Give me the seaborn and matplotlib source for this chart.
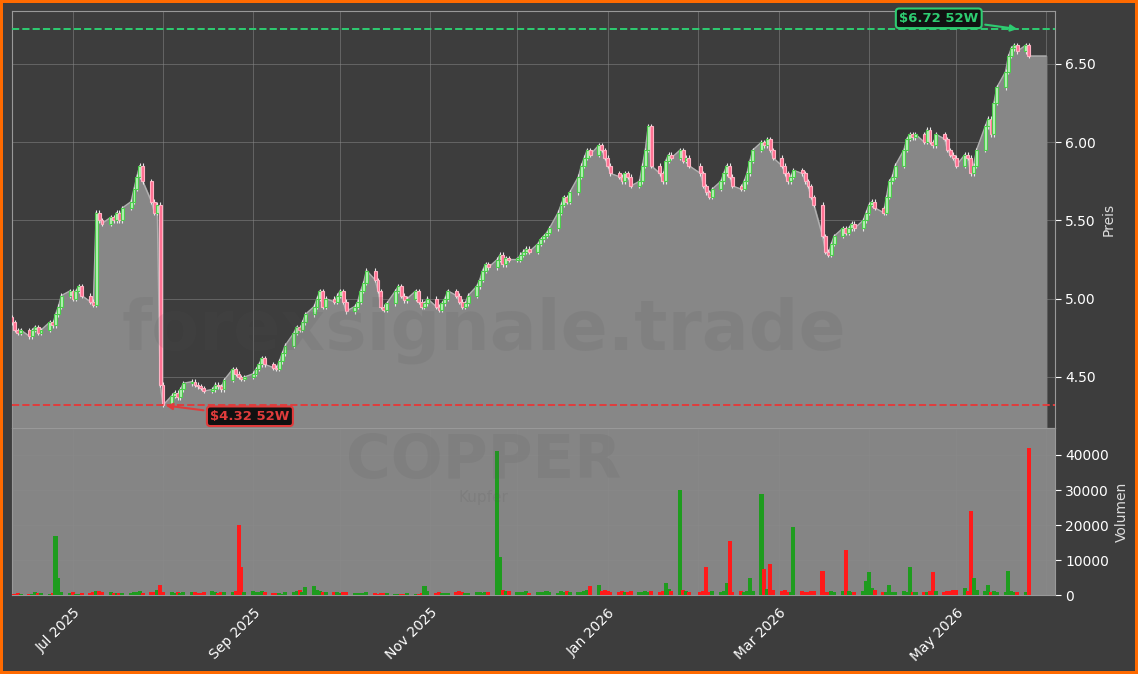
import numpy as np
import pandas as pd
import seaborn as sns
import matplotlib.pyplot as plt
import matplotlib.dates as mdates
from matplotlib.ticker import FuncFormatter

sns.set_style('dark')
plt.rcParams['font.family'] = ['DejaVu Sans']

# Schlusskurse pro Monat (Handelstage)
month_starts = ['2025-06-09', '2025-07-01', '2025-08-01', '2025-09-01', '2025-10-01', '2025-11-03',
                '2025-12-01', '2026-01-01', '2026-02-02', '2026-03-02', '2026-04-01', '2026-05-01']
closes = [
    [4.88, 4.85, 4.80, 4.78, 4.80, 4.76, 4.80, 4.82, 4.78, 4.80, 4.85, 4.83, 4.90, 4.95, 5.02, 5.05],
    [5.00, 5.05, 5.08, 5.02, 4.98, 4.96, 5.55, 5.50, 5.48, 5.52, 5.50, 5.55, 5.50, 5.58, 5.62, 5.70,
     5.78, 5.85, 5.75, 5.62, 5.55, 5.60, 4.45],
    [4.32, 4.38, 4.40, 4.37, 4.42, 4.46, 4.47, 4.45, 4.44, 4.43, 4.41, 4.42, 4.45, 4.44, 4.42, 4.48,
     4.55, 4.52, 4.50, 4.49, 4.50],
    [4.52, 4.55, 4.58, 4.62, 4.58, 4.56, 4.55, 4.60, 4.65, 4.70, 4.78, 4.82, 4.80, 4.85, 4.90, 4.95,
     5.00, 5.05, 4.95, 5.00, 4.98, 5.02],
    [5.05, 4.98, 4.92, 4.95, 4.98, 5.05, 5.10, 5.18, 5.12, 5.05, 4.95, 4.93, 4.97, 5.05, 5.08, 5.02,
     4.99, 5.00, 5.05, 4.98, 4.95, 4.97, 5.00],
    [4.95, 4.93, 4.97, 5.00, 5.05, 5.02, 4.98, 4.95, 4.97, 5.02, 5.08, 5.12, 5.18, 5.22, 5.20, 5.25,
     5.28, 5.22, 5.26, 5.25],
    [5.25, 5.28, 5.30, 5.32, 5.30, 5.35, 5.38, 5.40, 5.42, 5.45, 5.55, 5.60, 5.65, 5.62, 5.68, 5.78,
     5.85, 5.90, 5.95, 5.92, 5.98, 5.95, 5.90],
    [5.85, 5.80, 5.78, 5.75, 5.80, 5.78, 5.72, 5.75, 5.85, 5.95, 6.10, 5.85, 5.80, 5.75, 5.88, 5.92,
     5.90, 5.95, 5.88, 5.90, 5.85],
    [5.80, 5.72, 5.68, 5.65, 5.70, 5.75, 5.80, 5.85, 5.78, 5.72, 5.70, 5.75, 5.80, 5.88, 5.95, 6.00,
     5.98, 6.02, 5.95, 5.90],
    [5.85, 5.80, 5.75, 5.78, 5.82, 5.80, 5.75, 5.72, 5.65, 5.60, 5.40, 5.30, 5.28, 5.35, 5.40, 5.45,
     5.42, 5.45, 5.48, 5.45, 5.50, 5.55],
    [5.60, 5.62, 5.58, 5.55, 5.65, 5.75, 5.78, 5.85, 5.95, 6.02, 6.05, 6.03, 6.05, 6.00, 6.08, 6.00,
     5.98, 6.05, 6.02, 5.95, 5.92, 5.90],
    [5.85, 5.92, 5.90, 5.80, 5.85, 5.95, 6.10, 6.15, 6.05, 6.25, 6.35, 6.45, 6.55, 6.60, 6.62, 6.58,
     6.62, 6.55],
]
volumes = [
    [300, 200, 400, 500, 300, 400, 300, 800, 600, 500, 400, 500, 17000, 5000, 900, 700],
    [800, 200, 300, 600, 700, 900, 1100, 1300, 1000, 800, 600, 500, 700, 600, 500, 800, 900, 1200,
     700, 900, 1000, 1500, 3000],
    [1000, 900, 700, 800, 600, 900, 1000, 800, 700, 600, 900, 1200, 800, 700, 900, 1000, 800, 1100,
     20000, 8000, 1000],
    [1200, 900, 800, 1300, 1000, 700, 500, 600, 400, 800, 900, 1200, 1600, 1000, 2200, 2500, 1500,
     1200, 1000, 900, 800, 1000],
    [700, 800, 900, 600, 500, 700, 600, 800, 500, 400, 600, 500, 700, 300, 200, 400, 300, 500, 400,
     300, 500, 2500, 1200],
    [500, 800, 600, 700, 500, 900, 1100, 800, 600, 700, 900, 800, 700, 1000, 900, 41000, 11000, 1500,
     1300, 1100],
    [1000, 900, 800, 1200, 700, 900, 800, 1000, 1200, 900, 700, 1100, 800, 1300, 900, 1000, 800, 1200,
     1500, 2500, 3000, 1200, 1500],
    [1200, 900, 1000, 1100, 800, 900, 1200, 1000, 800, 1100, 900, 1300, 1000, 1200, 3500, 1800, 1200,
     30000, 1500, 1200, 900],
    [1000, 1200, 8000, 900, 1100, 1000, 1300, 3500, 15500, 1000, 1200, 900, 1100, 5000, 1200, 29000,
     7500, 1800, 9000, 1500],
    [1200, 1400, 1000, 900, 19500, 1200, 1000, 900, 1100, 1300, 7000, 1000, 900, 1200, 1000, 1100,
     13000, 1200, 1000, 900, 1300, 4000],
    [6500, 2000, 1500, 1000, 900, 3000, 1000, 800, 1200, 900, 8000, 1000, 900, 800, 1000, 1200, 6500,
     1100, 1000, 1300, 1200, 1500],
    [1600, 2000, 1200, 24000, 5000, 1500, 1200, 3000, 1000, 1200, 900, 1000, 7000, 1200, 1000, 800,
     900, 42000],
]
low_52w = 4.32
high_52w = 6.72

rows = []
for start, cl, vo in zip(month_starts, closes, volumes):
    for d, c, v in zip(pd.bdate_range(start, periods=len(cl)), cl, vo):
        rows.append((d, c, v))
df = pd.DataFrame(rows, columns=['date', 'close', 'volume'])
df['open'] = df['close'].shift(1).fillna(df['close'].iloc[0] - 0.02)
df['up'] = df['close'] >= df['open']

BG = '#3d3d3d'
fig = plt.figure(figsize=(11.38, 6.74), dpi=100, facecolor=BG)
fig.patch.set_edgecolor('#ff6a00')
fig.patch.set_linewidth(4)
ax = fig.add_axes([0.0105, 0.365, 0.9165, 0.619])
axv = fig.add_axes([0.0105, 0.117, 0.9165, 0.248], sharex=ax)

ax.set_facecolor(BG)
axv.set_facecolor('#858585')

# Flaeche unter dem Kurs
area_x = list(df['date']) + [df['date'].iloc[-1] + pd.Timedelta(days=6)]
area_y = list(df['close']) + [df['close'].iloc[-1]]
ax.fill_between(area_x, 4.174, area_y, color='#878787', zorder=1)
sns.lineplot(x=area_x, y=area_y, ax=ax, color='#b0b0b0', lw=1, zorder=2)

# Kerzen
w = 1.0
for _, r in df.iterrows():
    lo, hi = min(r.open, r.close), max(r.open, r.close)
    face = '#b5f0b5' if r.up else '#ff6f91'
    edge = '#4ccc4c' if r.up else '#ffb3c4'
    ax.vlines(r.date, lo - 0.015, hi + 0.015, color='#e8e8e8', lw=0.8, zorder=3)
    ax.bar(r.date, max(hi - lo, 0.008), bottom=lo, width=w, color=face, edgecolor=edge, lw=0.8, zorder=4)

axv.bar(df['date'], df['volume'], width=1.4, edgecolor='none',
        color=np.where(df['up'], '#1e9c1e', '#ff1a1a'), zorder=3)

ax.axhline(high_52w, color='#2ecc71', ls='--', lw=1.4, zorder=5)
ax.axhline(low_52w, color='#e03c3c', ls='--', lw=1.4, zorder=5)
i_hi = df['close'].idxmax()
i_lo = df['close'].idxmin()
ax.annotate(f'${high_52w:.2f} 52W', xy=(df['date'].iloc[i_hi] + pd.Timedelta(days=2), high_52w),
            xytext=(-30, 8), textcoords='offset points', color='#2ecc71', fontsize=9.5, fontweight='bold',
            ha='right', va='center',
            bbox=dict(boxstyle='round,pad=0.25', fc='#111', ec='#2ecc71', lw=1.5),
            arrowprops=dict(arrowstyle='-|>', color='#2ecc71', lw=1.5), zorder=6)
ax.annotate(f'${low_52w:.2f} 52W', xy=(df['date'].iloc[i_lo], low_52w),
            xytext=(34, -8), textcoords='offset points', color='#e03c3c', fontsize=9.5, fontweight='bold',
            ha='left', va='center',
            bbox=dict(boxstyle='round,pad=0.25', fc='#111', ec='#e03c3c', lw=1.5),
            arrowprops=dict(arrowstyle='-|>', color='#e03c3c', lw=1.5), zorder=6)

ax.set_ylim(4.174, 6.839)
axv.set_ylim(0, 47700)
ax.set_xlim(pd.Timestamp('2025-06-10'), pd.Timestamp('2026-06-04'))
ax.set_yticks([4.5, 5.0, 5.5, 6.0, 6.5])
ax.yaxis.set_major_formatter(FuncFormatter(lambda v, p: f'{v:.2f}'))
axv.set_yticks([0, 10000, 20000, 30000, 40000])

for a, lab in ((ax, 'Preis'), (axv, 'Volumen')):
    a.yaxis.tick_right()
    a.yaxis.set_label_position('right')
    a.set_ylabel(lab, color='#dddddd', fontsize=10)
    a.tick_params(colors='white', labelsize=10, length=4)
    a.grid(True, color='#8a8a8a', lw=0.6, alpha=0.6)
    for s in a.spines.values():
        s.set_color('#999999')

axv.xaxis.set_major_locator(mdates.MonthLocator())
axv.xaxis.set_major_formatter(FuncFormatter(
    lambda v, p: mdates.num2date(v).strftime('%b %Y') if mdates.num2date(v).month % 2 == 1 else ''))
plt.setp(ax.get_xticklabels(), visible=False)
plt.setp(axv.get_xticklabels(), rotation=45, ha='right', rotation_mode='anchor')

fig.text(0.425, 0.51, 'forexsignale.trade', fontsize=50, fontweight='bold', color='#555555', alpha=0.12,
         ha='center', va='center', zorder=0)
fig.text(0.425, 0.315, 'COPPER', fontsize=44, fontweight='bold', color='#555555', alpha=0.12,
         ha='center', va='center')
fig.text(0.425, 0.262, 'Kupfer', fontsize=11, color='#555555', alpha=0.15, ha='center', va='center')

fig.savefig('out.png', dpi=100, facecolor=BG, edgecolor=fig.patch.get_edgecolor())
